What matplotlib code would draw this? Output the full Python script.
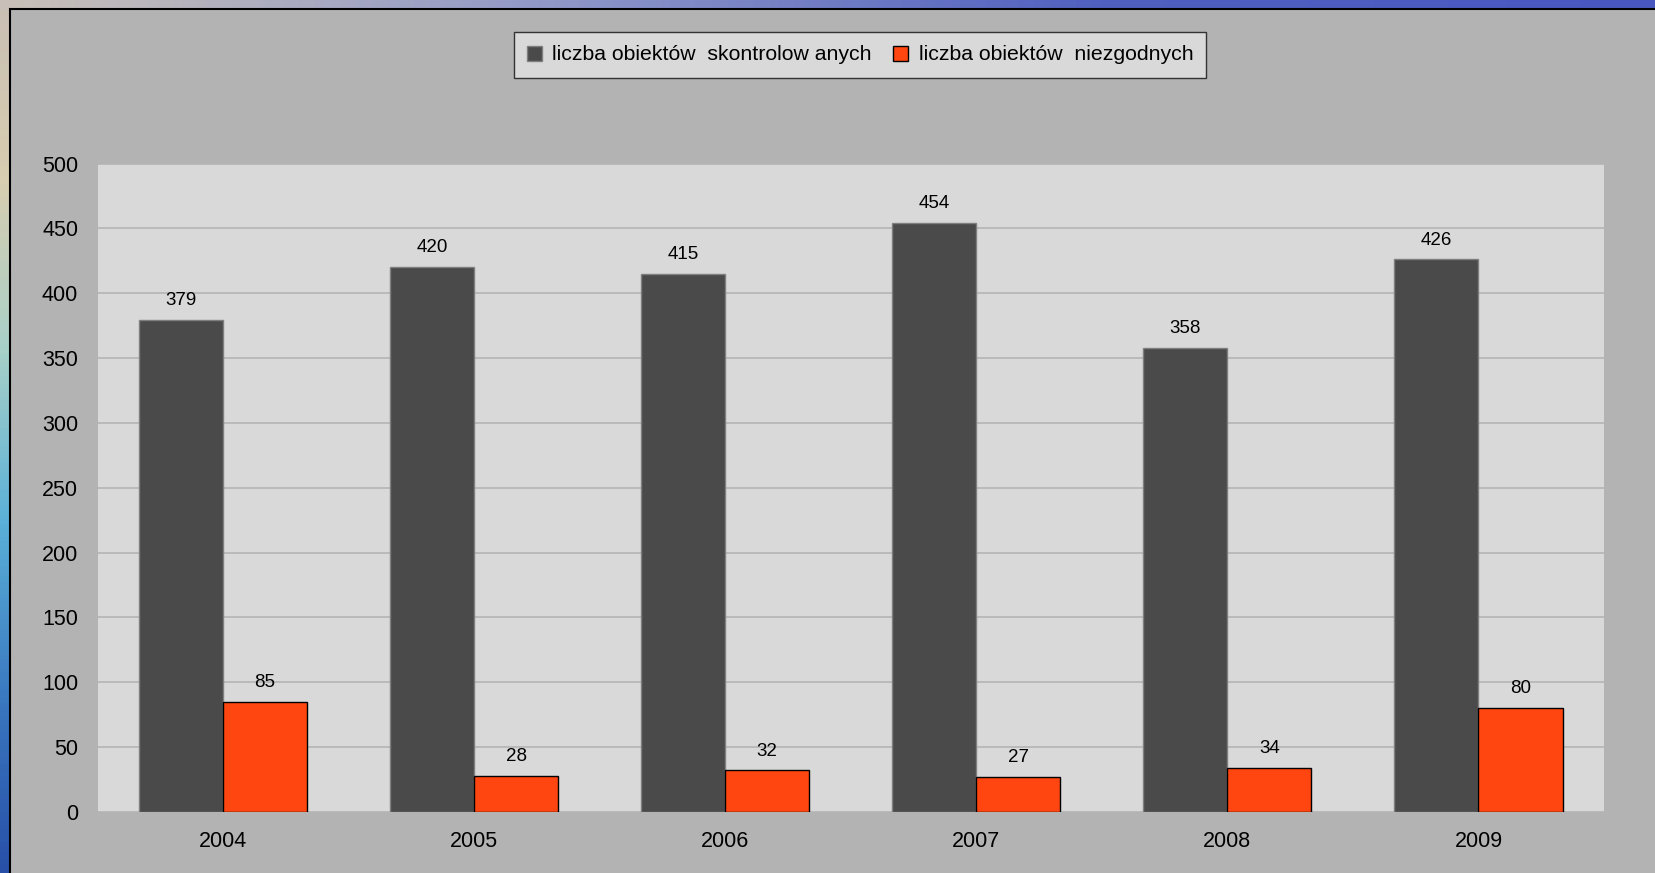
import matplotlib.pyplot as plt
import numpy as np
from matplotlib.colors import LinearSegmentedColormap
from matplotlib.patches import Rectangle

plt.rcParams['font.family'] = ['Liberation Sans', 'DejaVu Sans']

years = ['2004', '2005', '2006', '2007', '2008', '2009']
controlled = [379, 420, 415, 454, 358, 426]
noncompliant = [85, 28, 32, 27, 34, 80]
labels = ['liczba obiektów  skontrolow anych', 'liczba obiektów  niezgodnych']

fig = plt.figure(figsize=(16.55, 8.73), dpi=100)

# decorative background behind the chart frame
bg = fig.add_axes([0, 0, 1, 1])
bg.set_axis_off()
side = LinearSegmentedColormap.from_list('side', ['#c9bfb4', '#d8cdb0', '#a8d0c8', '#5ab0d8', '#3a78c0', '#2850a8'])
top = LinearSegmentedColormap.from_list('top', ['#c8c0b8', '#9098c8', '#5060c0', '#4858c0'])
bg.imshow(np.linspace(0, 1, 200).reshape(-1, 1), cmap=side, aspect='auto', extent=[0, 1, 0, 1])
bg.imshow(np.linspace(0, 1, 200).reshape(1, -1), cmap=top, aspect='auto', extent=[0, 1, 1 - 10 / 873, 1])
bg.set_xlim(0, 1)
bg.set_ylim(0, 1)
bg.add_patch(Rectangle((9.5 / 1655, -0.1), 1.2, 1.1 - 9.5 / 873,
                       facecolor='#b3b3b3', edgecolor='black', linewidth=1.5))

ax = fig.add_axes([97.5 / 1655, 61 / 873, 1506.5 / 1655, 648.5 / 873])
ax.set_facecolor('#d9d9d9')

x = np.arange(len(years))
w = 0.335
b1 = ax.bar(x - w / 2, controlled, w, color='#4a4a4a', edgecolor='#7f7f7f', linewidth=1, label=labels[0], zorder=3)
b2 = ax.bar(x + w / 2, noncompliant, w, color='#ff4510', edgecolor='black', linewidth=1, label=labels[1], zorder=3)

for bars in (b1, b2):
    for bar in bars:
        ax.annotate(str(int(bar.get_height())),
                    (bar.get_x() + bar.get_width() / 2, bar.get_height()),
                    xytext=(0, 14), textcoords='offset points',
                    ha='center', va='center', fontsize=13.5)

ax.set_xlim(-0.5, len(years) - 0.5)
ax.set_ylim(0, 500)
ax.set_yticks(range(0, 501, 50))
ax.set_xticks(x)
ax.set_xticklabels(years)
ax.tick_params(axis='both', length=0, labelsize=15.5)
ax.tick_params(axis='y', pad=14)
ax.tick_params(axis='x', pad=14)
ax.grid(True, axis='y', color='#b4b4b4', linewidth=1.2, zorder=0)
for s in ax.spines.values():
    s.set_visible(False)

leg = fig.legend(loc='center', bbox_to_anchor=(860 / 1655, 1 - 55 / 873), ncol=2,
                 fontsize=15.3, frameon=True, fancybox=False, handlelength=0.7, handleheight=0.7,
                 handletextpad=0.5, columnspacing=1.0, borderpad=0.62)
leg.get_frame().set_facecolor('#d9d9d9')
leg.get_frame().set_edgecolor('#333333')
leg.get_frame().set_alpha(1)

fig.savefig('out.png', dpi=100)
